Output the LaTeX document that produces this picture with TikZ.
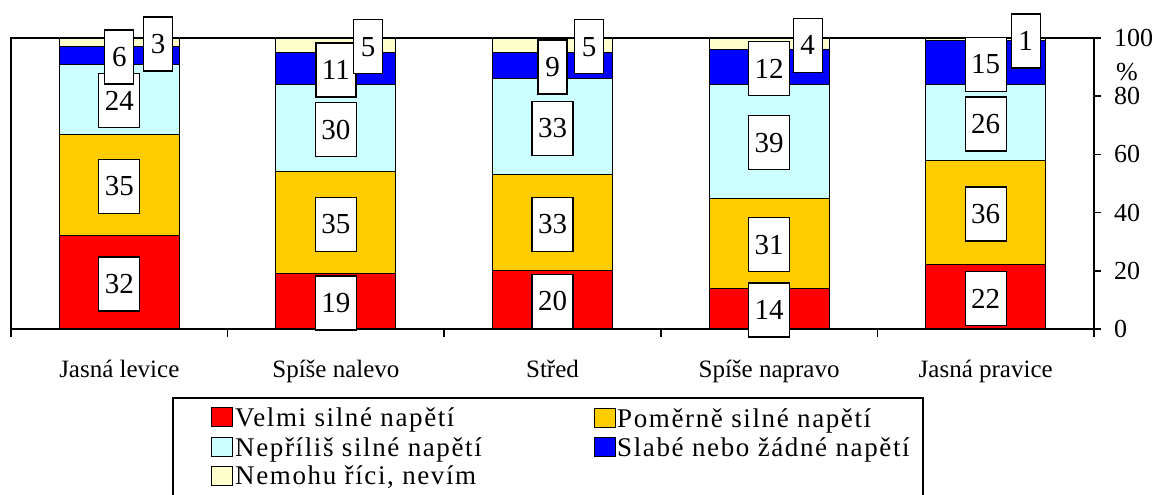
\documentclass[tikz,border=0pt]{standalone}
\usepackage{fontspec}
\setmainfont{Liberation Serif}
\newfontfamily\tnr{Liberation Serif}
\newfontfamily\tnrw[LetterSpace=6]{Liberation Serif}
\definecolor{cRed}{HTML}{FF0000}
\definecolor{cGold}{HTML}{FFCC00}
\definecolor{cCyan}{HTML}{CCFFFF}
\definecolor{cBlue}{HTML}{0000FF}
\definecolor{cCream}{HTML}{FFFFCC}
\begin{document}
\begin{tikzpicture}[x=1pt,y=-1pt,
  declare function={Y(\v)=329-2.91*\v;},
  seg/.style={draw=black, line width=1pt},
  frame/.style={draw=black, line width=1.6pt},
  lbl/.style={draw=black, fill=white, line width=1.3pt, font=\tnr\fontsize{29}{29}\selectfont,
    inner xsep=6pt, inner ysep=0pt, minimum height=54pt, minimum width=29pt},
  axlbl/.style={anchor=west, inner sep=0pt, font=\tnr\fontsize{26}{26}\selectfont},
  catlbl/.style={anchor=base, inner sep=0pt, font=\tnr\fontsize{25}{25}\selectfont},
  key/.style={draw=black, line width=1pt, minimum width=21pt, minimum height=19pt, inner sep=0pt},
  lgtxt/.style={anchor=base west, inner sep=0pt, font=\tnrw\fontsize{27}{27}\selectfont}]
\useasboundingbox (0,0) rectangle (1156,495);
% bars
\foreach \cx/\a/\b/\c/\d in {119.3/32/67/91/97, 335.9/19/54/84/95, 552.5/20/53/86/95, 769.1/14/45/84/96, 985.7/22/58/84/99}{
  \draw[seg, fill=cRed]   ({\cx-60},{Y(0)})  rectangle ({\cx+60},{Y(\a)});
  \draw[seg, fill=cGold]  ({\cx-60},{Y(\a)}) rectangle ({\cx+60},{Y(\b)});
  \draw[seg, fill=cCyan]  ({\cx-60},{Y(\b)}) rectangle ({\cx+60},{Y(\c)});
  \draw[seg, fill=cBlue]  ({\cx-60},{Y(\c)}) rectangle ({\cx+60},{Y(\d)});
  \draw[seg, fill=cCream] ({\cx-60},{Y(\d)}) rectangle ({\cx+60},{Y(100)});
}
% plot frame and axes
\draw[frame] (11,{Y(100)}) rectangle (1094,{Y(0)});
\foreach \i in {0,...,5}{
  \draw[frame] ({11+216.6*\i},{Y(0)}) -- ({11+216.6*\i},337);
}
\foreach \v in {0,20,...,100}{
  \draw[frame] (1094,{Y(\v)}) -- (1101,{Y(\v)});
  \node[axlbl] (ax\v) at (1114,{Y(\v)}) {\v};
}
\node[axlbl] (pct) at (1116,72) {\%};
% category labels
\node[catlbl] (c1) at (119.3,377) {Jasná levice};
\node[catlbl] (c2) at (335.9,377) {Spíše nalevo};
\node[catlbl] (c3) at (552.5,377) {Střed};
\node[catlbl] (c4) at (769.1,377) {Spíše napravo};
\node[catlbl] (c5) at (985.7,377) {Jasná pravice};
% data labels
\node[lbl] (l11) at (119.3,{Y(16)+1.5}) {32};
\node[lbl] (l12) at (119.3,{Y(49.5)+1.5}) {35};
\node[lbl] (l13) at (119.3,{Y(79)+1.5}) {24};
\node[lbl] (l14) at (119.3,{Y(94)+1.5}) {6};
\node[lbl] (l15) at (158,{Y(98.5)+1.5}) {3};
\node[lbl] (l21) at (335.9,{Y(9.5)+1.5}) {19};
\node[lbl] (l22) at (335.9,{Y(36.5)+1.5}) {35};
\node[lbl] (l23) at (335.9,{Y(69)+1.5}) {30};
\node[lbl] (l24) at (335.9,{Y(89.5)+1.5}) {11};
\node[lbl] (l25) at (368,{Y(97.5)+1.5}) {5};
\node[lbl] (l31) at (552.5,{Y(10)+1.5}) {20};
\node[lbl] (l32) at (552.5,{Y(36.5)+1.5}) {33};
\node[lbl] (l33) at (552.5,{Y(69.5)+1.5}) {33};
\node[lbl] (l34) at (552.5,{Y(90.5)+1.5}) {9};
\node[lbl] (l35) at (589,{Y(97.5)+1.5}) {5};
\node[lbl] (l41) at (769.1,{Y(7)+1.5}) {14};
\node[lbl] (l42) at (769.1,{Y(29.5)+1.5}) {31};
\node[lbl] (l43) at (769.1,{Y(64.5)+1.5}) {39};
\node[lbl] (l44) at (769.1,{Y(90)+1.5}) {12};
\node[lbl] (l45) at (807.7,{Y(98)+1.5}) {4};
\node[lbl] (l51) at (985.7,{Y(11)+1.5}) {22};
\node[lbl] (l52) at (985.7,{Y(40)+1.5}) {36};
\node[lbl] (l53) at (985.7,{Y(71)+1.5}) {26};
\node[lbl] (l54) at (985.7,{Y(91.5)+1.5}) {15};
\node[lbl] (l55) at (1025.7,{Y(99.5)+1.5}) {1};
% legend
\draw[line width=1.4pt] (173,520) -- (173,398) -- (923,398) -- (923,520);
\node[key, fill=cRed]   (k1) at (222,417) {};
\node[lgtxt] (t1) at (235,426.5) {Velmi silné napětí};
\node[key, fill=cGold]  (k2) at (605,418) {};
\node[lgtxt] (t2) at (617,427.5) {Poměrně silné napětí};
\node[key, fill=cCyan]  (k3) at (222,447) {};
\node[lgtxt] (t3) at (235,456) {Nepříliš silné napětí};
\node[key, fill=cBlue]  (k4) at (605,447) {};
\node[lgtxt] (t4) at (617,456) {Slabé nebo žádné napětí};
\node[key, fill=cCream] (k5) at (222,475.5) {};
\node[lgtxt] (t5) at (235,484.5) {Nemohu říci, nevím};
\end{tikzpicture}
\end{document}
